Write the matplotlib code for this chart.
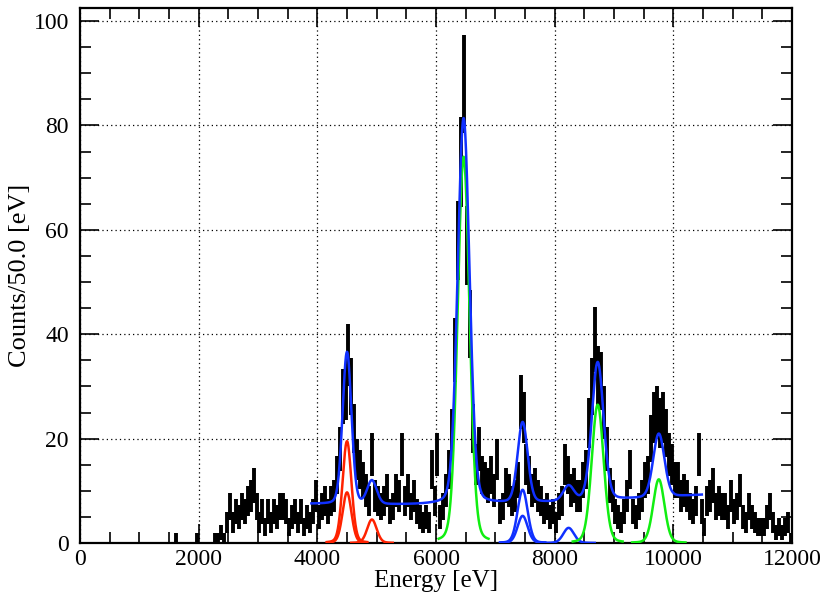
import numpy as np
import matplotlib.pyplot as plt
from matplotlib.ticker import MultipleLocator

plt.rcParams['font.family'] = ['Liberation Serif', 'DejaVu Serif']

# histogram: 50 eV bins from 0 to 12000 eV
bin_width = 50.0
counts = [
    0, 0, 0, 0, 0, 0, 0, 0, 0, 0, 0, 0, 0, 0, 0, 0, 0, 0, 0, 0,
    0, 0, 0, 0, 0, 0, 0, 0, 0, 0, 0, 0, 1, 0, 0, 0, 0, 0, 0, 1,
    0, 0, 0, 0, 0, 1, 1, 2, 1, 4, 7, 4, 6, 5, 7, 6, 8, 9, 11, 7,
    4, 6, 3, 6, 4, 6, 5, 7, 7, 6, 3, 5, 6, 4, 6, 3, 5, 4, 6, 9,
    5, 7, 8, 6, 8, 9, 13, 18, 28, 29, 36, 30, 22, 16, 14, 12, 10, 8, 17, 9,
    8, 7, 8, 10, 6, 7, 10, 9, 17, 8, 10, 7, 9, 6, 5, 4, 5, 4, 14, 8,
    17, 5, 7, 10, 14, 21, 37, 58, 73, 88, 57, 42, 22, 15, 18, 13, 12, 11, 13, 10,
    16, 6, 7, 11, 10, 8, 9, 12, 27, 24, 15, 13, 10, 11, 9, 8, 6, 7, 5, 6,
    4, 7, 8, 15, 13, 10, 11, 9, 9, 12, 14, 23, 30, 39, 32, 31, 25, 18, 11, 9,
    6, 5, 4, 6, 9, 14, 6, 5, 7, 9, 12, 13, 20, 24, 25, 23, 24, 21, 17, 15,
    12, 12, 9, 10, 9, 7, 6, 8, 17, 6, 3, 8, 9, 11, 7, 8, 7, 7, 5, 9,
    6, 7, 10, 5, 4, 7, 5, 4, 3, 3, 3, 5, 7, 4, 2, 3, 2, 3, 4, 1,
]

# fitted peaks (pseudo-Voigt) and background
peak_centers = [4500, 4500, 4920, 6465, 7460, 7460, 8235, 8725, 9755]
peak_heights = [19.5, 9.7, 4.5, 74.0, 10.2, 5.2, 2.9, 26.5, 12.2]
peak_sigmas = [75, 75, 80, 100, 85, 85, 90, 100, 95]
peak_half_ranges = [340, 340, 350, 420, 380, 380, 440, 420, 450]
peak_colors = ['#ff2200', '#ff2200', '#ff2200', '#11ee11',
               '#1030ff', '#1030ff', '#1030ff', '#11ee11', '#11ee11']
lorentz_frac = 0.15
bkg_coeffs = [7.3, -0.0625, 0.075]   # polynomial in (E - 5000)/1000
total_range = (3900, 10480)


def peak(e, c, h, s):
    g = np.exp(-0.5 * ((e - c) / s) ** 2)
    l = 1.0 / (1.0 + (2 * (e - c) / (2.355 * s)) ** 2)
    return h * ((1 - lorentz_frac) * g + lorentz_frac * l)


def background(e):
    u = (e - 5000.0) / 1000.0
    return bkg_coeffs[0] + bkg_coeffs[1] * u + bkg_coeffs[2] * u ** 2


n = np.array(counts, dtype=float)
centers = (np.arange(len(n)) + 0.5) * bin_width
err = np.sqrt(n)
mask = n > 0

fig = plt.figure(figsize=(8.22, 5.97), dpi=100)
ax = fig.add_axes([80 / 822, 54 / 597, 712 / 822, 535 / 597])

ax.vlines(centers[mask], (n - err)[mask], (n + err)[mask], colors='black', lw=2.8, zorder=2)

for c, h, s, r, col in zip(peak_centers, peak_heights, peak_sigmas, peak_half_ranges, peak_colors):
    e = np.linspace(c - r, c + r, 300)
    ax.plot(e, peak(e, c, h, s), color=col, lw=1.8, zorder=3)

e = np.linspace(total_range[0], total_range[1], 2000)
total = background(e)
for c, h, s in zip(peak_centers, peak_heights, peak_sigmas):
    total = total + peak(e, c, h, s)
ax.plot(e, total, color='#1030ff', lw=1.8, zorder=4)

ax.set_xlim(0, 12000)
ax.set_ylim(0, 102.5)
ax.xaxis.set_major_locator(MultipleLocator(2000))
ax.xaxis.set_minor_locator(MultipleLocator(500))
ax.yaxis.set_major_locator(MultipleLocator(20))
ax.yaxis.set_minor_locator(MultipleLocator(5))
ax.tick_params(which='both', direction='in', top=True, right=True, width=1.2, labelsize=17)
ax.tick_params(which='major', length=14)
ax.tick_params(which='minor', length=8)
ax.tick_params(axis='x', pad=4)
ax.tick_params(axis='y', pad=8)
for sp in ax.spines.values():
    sp.set_linewidth(1.6)

ax.grid(True, which='major', color='black', linestyle=(0, (1, 2.5)), linewidth=0.9)
ax.set_axisbelow(True)

ax.set_xlabel('Energy [eV]', fontsize=18, labelpad=0)
ax.set_ylabel('Counts/50.0 [eV]', fontsize=19, labelpad=2)

fig.savefig('out.png', dpi=100)
